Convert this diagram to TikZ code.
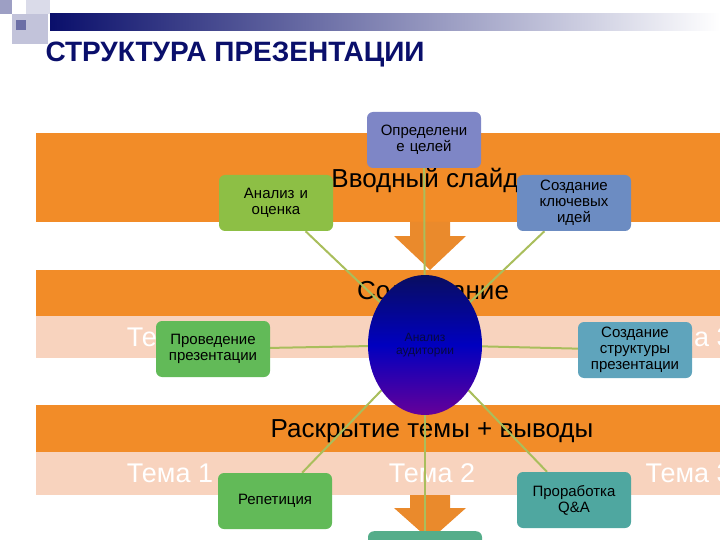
\documentclass[tikz,border=0pt]{standalone}
\usepackage{fontspec}
\setmainfont{Liberation Sans}
\usetikzlibrary{shapes.geometric}
\definecolor{orng}{HTML}{F28C28}
\definecolor{peach}{HTML}{F8D3BE}
\definecolor{navy}{HTML}{0A0F6B}
\definecolor{lnk}{HTML}{A9BE5C}
\definecolor{c1}{HTML}{7E86C6}
\definecolor{c2}{HTML}{8DBF45}
\definecolor{c3}{HTML}{6C8CC2}
\definecolor{c4}{HTML}{62BA58}
\definecolor{c5}{HTML}{5FA4BC}
\definecolor{c7}{HTML}{4FA7A0}
\pgfdeclarelayer{bands}
\pgfdeclarelayer{links}
\pgfsetlayers{bands,links,main}
\tikzset{
  band/.style={fill=orng,draw=none},
  pband/.style={fill=peach,draw=none},
  box/.style={rounded corners=6pt,minimum width=114pt,minimum height=56pt,align=center,font=\fontsize{15}{16}\selectfont,inner sep=2pt,text width=110pt},
  tema/.style={text=white,font=\fontsize{27}{28}\selectfont},
  head/.style={text=black,font=\fontsize{26}{28}\selectfont},
  link/.style={draw=lnk,line width=2pt},
  bigarrow/.style={fill=orng!85!brown,draw=none}
}
\begin{document}
\begin{tikzpicture}[x=1pt,y=-1pt]
\useasboundingbox (0,0) rectangle (720,540);
\clip (0,0) rectangle (720,540);
\begin{pgfonlayer}{bands}
\shade[left color=navy,right color=white] (50,14) rectangle (720,31);
\fill[navy!40] (0,0) rectangle (12,14);
\fill[navy!25] (12,14) rectangle (48,44);
\fill[navy!60] (16,20) rectangle (26,30);
\fill[navy!15] (26,0) rectangle (50,14);
\fill[band] (36,133) rectangle (720,222);
\fill[bigarrow] (410,222) -- (450,222) -- (450,236) -- (466,236) -- (430,270) -- (394,236) -- (410,236) -- cycle;
\fill[band] (36,270) rectangle (720,316);
\fill[pband] (36,316) rectangle (720,358);
\fill[band] (36,405) rectangle (720,452);
\fill[pband] (36,452) rectangle (720,495);
\fill[bigarrow] (410,495) -- (450,495) -- (450,508) -- (466,508) -- (430,540) -- (394,508) -- (410,508) -- cycle;
\node[head] (t1) at (425,180) {Вводный слайд};
\node[head] (t2) at (433,293) {Содержание};
\node[head] (t3) at (432,431) {Раскрытие темы + выводы};
\node[tema] (a1) at (170,337) {Тема 1};
\node[tema] (a2) at (432,337) {Тема 2};
\node[tema,anchor=west] (a3) at (642,337) {Тема 3};
\node[tema] (b1) at (170,473) {Тема 1};
\node[tema] (b2) at (432,473) {Тема 2};
\node[tema,anchor=west] (b3) at (642,473) {Тема 3};
\end{pgfonlayer}
\node[anchor=west,text=navy,font=\bfseries\fontsize{28}{30}\selectfont] (title) at (42,55) {СТРУКТУРА ПРЕЗЕНТАЦИИ};
\node[box,fill=c1] (n1) at (424,140) {Определени\\е целей};
\node[box,fill=c2] (n2) at (276,203) {Анализ и\\оценка};
\node[box,fill=c3] (n3) at (574,203) {Создание\\ключевых\\идей};
\node[box,fill=c4] (n4) at (213,349) {Проведение\\презентации};
\node[box,fill=c5] (n5) at (635,350) {Создание\\структуры\\презентации};
\node[box,fill=c4] (n6) at (275,501) {Репетиция};
\node[box,fill=c7] (n7) at (574,500) {Проработка\\Q\&A};
\node[box,fill=c7!70!c4,anchor=north] (n8) at (425,531) {};
\node[ellipse,minimum width=114pt,minimum height=140pt,top color=navy!90!black,bottom color=violet!80!blue,middle color=blue!75!black,align=center,font=\fontsize{12}{13}\selectfont,text=navy!60!black] (circ) at (425,345) {Анализ\\аудитории};
\begin{pgfonlayer}{links}
\foreach \n in {n1,n2,n3,n4,n5,n6,n7,n8} \draw[link] (circ.center) -- (\n);
\end{pgfonlayer}
\end{tikzpicture}
\end{document}
